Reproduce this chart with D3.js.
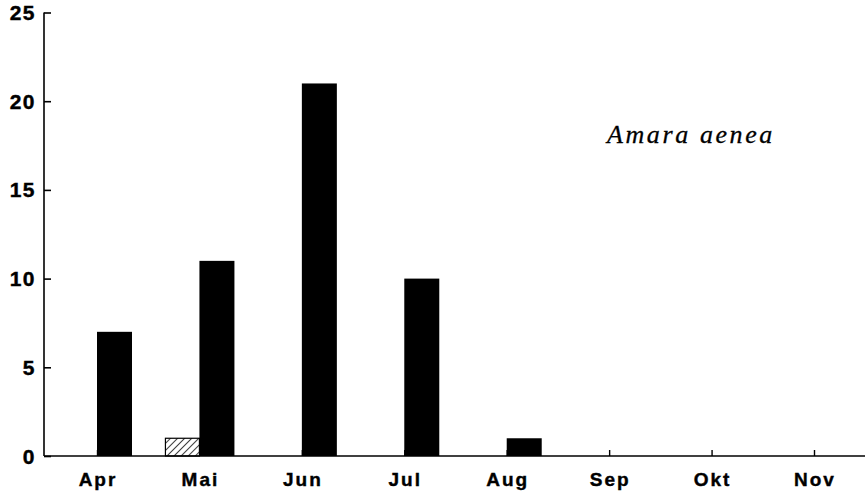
<!DOCTYPE html>
<html>
<head>
<meta charset="utf-8">
<script src="https://cdn.jsdelivr.net/npm/d3@7"></script>
<style>
  html, body { margin: 0; padding: 0; background: #fff; }
  svg { display: block; }
</style>
</head>
<body>
<svg id="chart" width="865" height="499"></svg>
<script>
// Monthly catches of Amara aenea
const months = ["Apr", "Mai", "Jun", "Jul", "Aug", "Sep", "Okt", "Nov"];
const solidCounts = [7, 11, 21, 10, 1, 0, 0, 0];
const hatchedCounts = [0, 1, 0, 0, 0, 0, 0, 0];
const yTicks = [0, 5, 10, 15, 20, 25];
const speciesName = "Amara aenea";

const svg = d3.select("#chart");
const axisX = 44, baseY = 456, topY = 12.5;

const x = d3.scalePoint().domain(months).range([97, 814]);
const y = d3.scaleLinear().domain([0, 25]).range([baseY, topY]);
const barW = 35;

// diagonal hatch pattern
const defs = svg.append("defs");
const pat = defs.append("pattern")
  .attr("id", "hatch").attr("patternUnits", "userSpaceOnUse")
  .attr("width", 5).attr("height", 5)
  .attr("patternTransform", "rotate(45)");
pat.append("rect").attr("width", 5).attr("height", 5).attr("fill", "#fff");
pat.append("line").attr("x1", 0).attr("y1", 0).attr("x2", 0).attr("y2", 5)
  .attr("stroke", "#000").attr("stroke-width", 1.5);

// solid bars start at the month position
svg.append("g").selectAll("rect")
  .data(months.map((m, i) => ({ m, v: solidCounts[i] })).filter(d => d.v > 0))
  .join("rect")
  .attr("x", d => x(d.m))
  .attr("y", d => y(d.v))
  .attr("width", barW)
  .attr("height", d => baseY - y(d.v))
  .attr("fill", "#000");

// hatched bars end at the month position
svg.append("g").selectAll("rect")
  .data(months.map((m, i) => ({ m, v: hatchedCounts[i] })).filter(d => d.v > 0))
  .join("rect")
  .attr("x", d => x(d.m) - barW + 1)
  .attr("y", d => y(d.v))
  .attr("width", barW - 1)
  .attr("height", d => baseY - y(d.v))
  .attr("fill", "url(#hatch)")
  .attr("stroke", "#000").attr("stroke-width", 1.2);

// y axis with inward ticks
const yAxis = d3.axisRight(y).tickValues(yTicks).tickSize(7).tickFormat("");
const gy = svg.append("g").attr("transform", `translate(${axisX},0)`).call(yAxis);
gy.select(".domain").remove();
gy.selectAll(".tick line").attr("stroke", "#000").attr("stroke-width", 1.6);
svg.append("line")
  .attr("x1", axisX).attr("x2", axisX).attr("y1", y(25)).attr("y2", baseY)
  .attr("stroke", "#000").attr("stroke-width", 1.6);
svg.append("g").selectAll("text")
  .data(yTicks).join("text")
  .attr("x", 36).attr("y", d => y(d) + 7.5)
  .attr("text-anchor", "end")
  .attr("font-family", "Liberation Sans, Arial, sans-serif")
  .attr("font-weight", "bold").attr("font-size", 21)
  .attr("letter-spacing", 1.5)
  .attr("stroke", "#000").attr("stroke-width", 0.4)
  .text(d => d);

// x axis baseline with upward ticks
svg.append("line")
  .attr("x1", axisX).attr("x2", 865).attr("y1", baseY).attr("y2", baseY)
  .attr("stroke", "#000").attr("stroke-width", 1.6);
const xAxis = d3.axisTop(x).tickSize(6).tickFormat("");
const gx = svg.append("g").attr("transform", `translate(0,${baseY})`).call(xAxis);
gx.select(".domain").remove();
gx.selectAll(".tick line").attr("stroke", "#000").attr("stroke-width", 1.4);
svg.append("g").selectAll("text")
  .data(months).join("text")
  .attr("x", d => x(d) + 1).attr("y", 486)
  .attr("text-anchor", "middle")
  .attr("font-family", "Liberation Sans, Arial, sans-serif")
  .attr("font-weight", "bold").attr("font-size", 19)
  .attr("letter-spacing", 2)
  .attr("stroke", "#000").attr("stroke-width", 0.4)
  .text(d => d);

// species name
svg.append("text")
  .attr("x", 607).attr("y", 143)
  .attr("font-family", "Liberation Serif, Times New Roman, serif")
  .attr("font-style", "italic").attr("font-size", 26)
  .attr("letter-spacing", 2.6)
  .attr("stroke", "#000").attr("stroke-width", 0.3)
  .text(speciesName);
</script>
</body>
</html>
